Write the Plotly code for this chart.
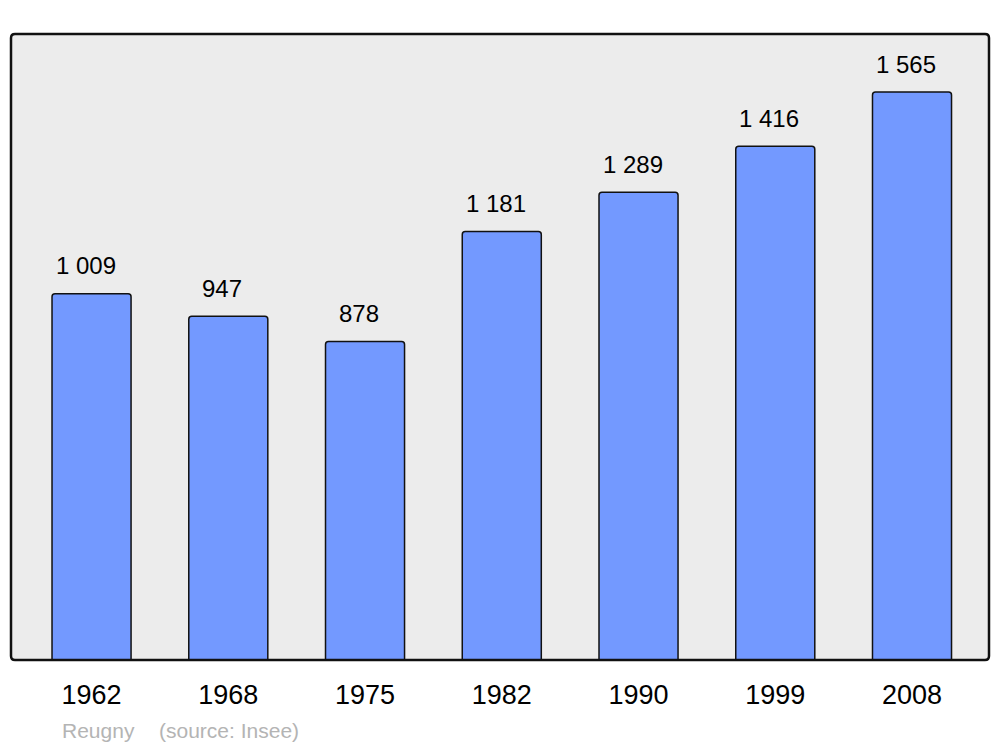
import plotly.graph_objects as go

years = ["1962", "1968", "1975", "1982", "1990", "1999", "2008"]
population = [1009, 947, 878, 1181, 1289, 1416, 1565]
value_labels = ["1 009", "947", "878", "1 181", "1 289", "1 416", "1 565"]
town = "Reugny"
source = "(source: Insee)"

W, H = 1000, 747
ML, MR, MT, MB = 11, 11, 34, 87
pw, ph = W - ML - MR, H - MT - MB

fig = go.Figure()
fig.add_trace(go.Bar(
    x=list(range(len(years))), y=population, width=0.578,
    marker=dict(color="#7399ff", line=dict(color="#111111", width=1.5), cornerradius=3),
    hoverinfo="skip",
))

for i, (v, lab) in enumerate(zip(population, value_labels)):
    fig.add_annotation(x=i, y=v, text=lab, showarrow=False, xref="x", yref="y",
                       yanchor="middle", yshift=28, xshift=-6,
                       font=dict(family="Liberation Sans, Arial", size=24, color="#000"))

# rounded frame in paper coords
rx, ry = 4 / pw, 4 / ph
path = (f"M {rx},0 L {1-rx},0 Q 1,0 1,{ry} L 1,{1-ry} Q 1,1 {1-rx},1 "
        f"L {rx},1 Q 0,1 0,{1-ry} L 0,{ry} Q 0,0 {rx},0 Z")
fig.add_shape(type="path", xref="paper", yref="paper", path=path,
              line=dict(color="#111111", width=2.5), layer="above")

foot_y = (H - MB - 730) / ph
fig.add_annotation(x=(60 - ML) / pw, y=foot_y, xref="paper", yref="paper", xanchor="left",
                   yanchor="middle", text=town, showarrow=False,
                   font=dict(family="Liberation Sans, Arial", size=21, color="#b4b4b4"))
fig.add_annotation(x=(157 - ML) / pw, y=foot_y, xref="paper", yref="paper", xanchor="left",
                   yanchor="middle", text=source, showarrow=False,
                   font=dict(family="Liberation Sans, Arial", size=21, color="#b4b4b4"))

fig.update_layout(
    width=W, height=H, margin=dict(l=ML, r=MR, t=MT, b=MB),
    paper_bgcolor="white", plot_bgcolor="#ececec", showlegend=False,
    xaxis=dict(range=[-0.589, 6.563], tickmode="array", tickvals=list(range(len(years))),
               ticktext=years, showgrid=False, zeroline=False, showline=False,
               ticks="", ticklabelstandoff=16,
               tickfont=dict(family="Liberation Sans, Arial", size=27, color="#000")),
    yaxis=dict(range=[0, 1725], visible=False, showgrid=False, zeroline=False),
)

fig.write_html("out.html", config={"displayModeBar": False},
               post_script="document.body.style.margin='0';document.body.style.overflow='hidden';")
